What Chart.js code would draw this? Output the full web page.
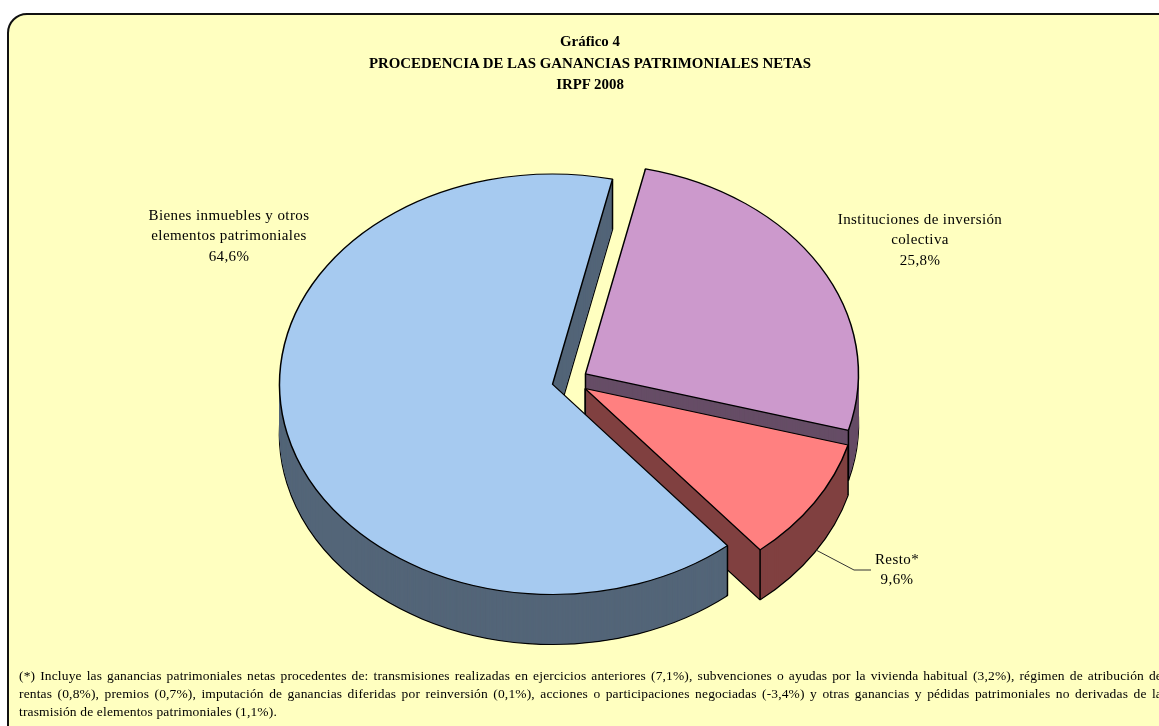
<!DOCTYPE html>
<html lang="es">
<head>
  <meta charset="UTF-8">
  <title>Gráfico 4</title>
  <script src="https://cdn.jsdelivr.net/npm/chart.js"></script>
  <style>
    html, body {
      margin: 0;
      width: 1159px;
      height: 726px;
      overflow: hidden;
      background: #fff;
      font-family: "Liberation Serif", serif;
      color: #000;
    }
    .panel {
      position: absolute;
      left: 7px;
      top: 13px;
      width: 1300px;
      height: 900px;
      box-sizing: border-box;
      border: 2px solid #111;
      border-radius: 20px;
      background: #ffffc0;
    }
    canvas {
      position: absolute;
      left: 0;
      top: 0;
    }
    .title {
      position: absolute;
      left: 290px;
      top: 31px;
      width: 600px;
      text-align: center;
      font-weight: bold;
      font-size: 14.9px;
      line-height: 21.5px;
    }
    .note {
      position: absolute;
      left: 19px;
      top: 667px;
      width: 1143px;
      font-size: 13.5px;
      letter-spacing: 0.15px;
      line-height: 18px;
    }
    .note div {
      white-space: nowrap;
      text-align: justify;
      text-align-last: justify;
    }
    .note div:last-child {
      text-align-last: left;
    }
  </style>
</head>
<body>

  <div class="panel"></div>
  <canvas id="pie" width="1159" height="726"></canvas>

  <div class="title">
    Gráfico 4<br>
    PROCEDENCIA DE LAS GANANCIAS PATRIMONIALES NETAS<br>
    IRPF 2008
  </div>

  <div class="note">
    <div>(*) Incluye las ganancias patrimoniales netas procedentes de: transmisiones realizadas en ejercicios anteriores (7,1%), subvenciones o ayudas por la vivienda habitual (3,2%), régimen de atribución de</div>
    <div>rentas (0,8%), premios (0,7%), imputación de ganancias diferidas por reinversión (0,1%), acciones o participaciones negociadas (-3,4%) y otras ganancias y pédidas patrimoniales no derivadas de la</div>
    <div>trasmisión de elementos patrimoniales (1,1%).</div>
  </div>

  <script>
    const categories = [['Instituciones de inversión', 'colectiva'], ['Resto*'], ['Bienes inmuebles y otros', 'elementos patrimoniales']];
    const values = [25.8, 9.6, 64.6];
    const topColors = ['#cc99cc', '#ff8080', '#a6caf0'];
    const wallColors = ['#664d66', '#804040', '#536578'];

    // centre of each label block, px
    const labelX = [920, 897, 229];
    const labelY = [220, 560, 216];

    const squash = 0.77;    // tilt of the pie
    const depth = 50;       // height of the walls
    const explode = 18;     // how far slices are pulled out

    // draw one arc element tilted, pulled out and pushed down by k px
    function drawSlice(ctx, el, k, override) {
      const mid = (el.startAngle + el.endAngle) / 2;
      const saved = el.options;
      ctx.save();
      ctx.translate(0, el.y + k);
      ctx.scale(1, squash);
      ctx.translate(0, -el.y);
      ctx.translate(Math.cos(mid) * explode, Math.sin(mid) * explode);
      el.options = Object.assign({}, saved, override);
      el.draw(ctx);
      el.options = saved;
      ctx.restore();
    }

    // vertical edge of a wall, at a point on the slice given by angle and radius
    function wallEdge(ctx, el, angle, r) {
      const mid = (el.startAngle + el.endAngle) / 2;
      const x = el.x + Math.cos(mid) * explode + Math.cos(angle) * r;
      const y = el.y + (Math.sin(mid) * explode + Math.sin(angle) * r) * squash;
      ctx.beginPath();
      ctx.moveTo(x, y);
      ctx.lineTo(x, y + depth);
      ctx.stroke();
    }

    const pie3d = {
      id: 'pie3d',
      beforeDatasetDraw(chart, args) {
        const ctx = chart.ctx;
        args.meta.data.forEach((el, i) => {
          drawSlice(ctx, el, depth, { backgroundColor: wallColors[i] });
          for (let k = depth - 1; k > 0; k--) {
            drawSlice(ctx, el, k, { backgroundColor: wallColors[i], borderWidth: 0 });
          }
          ctx.save();
          ctx.strokeStyle = '#000';
          ctx.lineWidth = 1.5;
          wallEdge(ctx, el, el.startAngle, el.outerRadius);
          wallEdge(ctx, el, el.endAngle, el.outerRadius);
          wallEdge(ctx, el, el.startAngle, 0);
          ctx.restore();
          drawSlice(ctx, el, 0, {});
        });
        return false;
      },
      afterDraw(chart) {
        const ctx = chart.ctx;
        ctx.save();

        // leader line of Resto*
        ctx.strokeStyle = '#333';
        ctx.lineWidth = 1;
        ctx.beginPath();
        ctx.moveTo(816, 550);
        ctx.lineTo(854, 570);
        ctx.lineTo(871, 570);
        ctx.stroke();

        ctx.fillStyle = '#000';
        ctx.font = '15px "Liberation Serif"';
        ctx.letterSpacing = '0.4px';
        ctx.textAlign = 'center';
        ctx.textBaseline = 'middle';
        categories.forEach((lines, i) => {
          const text = lines.concat(values[i].toFixed(1).replace('.', ',') + '%');
          text.forEach((line, n) => {
            ctx.fillText(line, labelX[i], labelY[i] + n * 20.5);
          });
        });
        ctx.restore();
      }
    };

    new Chart(document.getElementById('pie').getContext('2d'), {
      type: 'pie',
      data: {
        labels: categories,
        datasets: [{
          data: values,
          backgroundColor: topColors,
          borderColor: '#000',
          borderWidth: 1.5
        }]
      },
      options: {
        responsive: false,
        animation: false,
        rotation: 12.7,
        radius: 273,
        layout: { padding: { top: 36, right: 19 } },
        plugins: {
          legend: { display: false },
          tooltip: { enabled: false }
        }
      },
      plugins: [pie3d]
    });
  </script>

</body>
</html>
